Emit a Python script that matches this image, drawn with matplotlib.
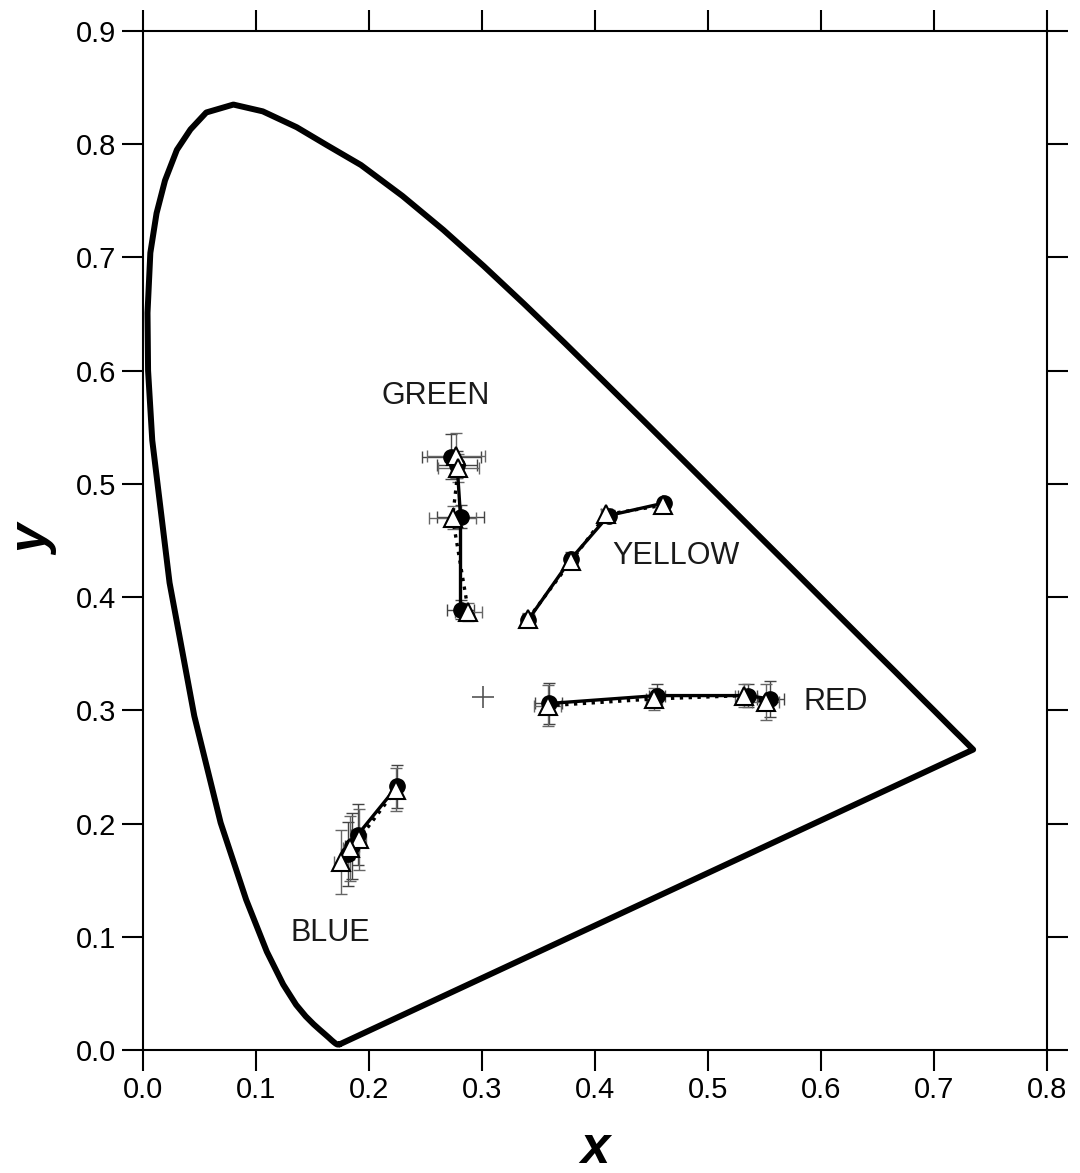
import matplotlib
matplotlib.use("Agg")
import matplotlib.pyplot as plt

plt.rcParams['font.family'] = ['Liberation Sans', 'DejaVu Sans']

# spectral locus (CIE 1931 values, top arc)
locus_x = [0.1741, 0.1740, 0.1738, 0.1736, 0.1733, 0.1730, 0.1726, 0.1721, 0.1714, 0.1703,
           0.1689, 0.1669, 0.1644, 0.1611, 0.1566, 0.1510, 0.1440, 0.1355, 0.1241, 0.1096,
           0.0913, 0.0687, 0.0454, 0.0235, 0.0082, 0.0045, 0.0040, 0.0065, 0.0120, 0.0195,
           0.0300, 0.0420, 0.0560, 0.0800, 0.1060, 0.1360, 0.1630,
           0.1929, 0.2296, 0.2658, 0.3016, 0.3373, 0.3731, 0.4087, 0.4441, 0.4788,
           0.5125, 0.5448, 0.5752, 0.6029, 0.6270, 0.6482, 0.6658, 0.6801, 0.6915, 0.7006,
           0.7079, 0.7140, 0.7190, 0.7230, 0.7260, 0.7283, 0.7300, 0.7311, 0.7320, 0.7327,
           0.7334, 0.7340, 0.7344, 0.7346, 0.7347]
locus_y = [0.0050, 0.0050, 0.0049, 0.0049, 0.0048, 0.0048, 0.0048, 0.0048, 0.0051, 0.0058,
           0.0069, 0.0086, 0.0109, 0.0138, 0.0177, 0.0227, 0.0297, 0.0399, 0.0578, 0.0868,
           0.1327, 0.2007, 0.2950, 0.4127, 0.5384, 0.6000, 0.6510, 0.7040, 0.7390, 0.7680,
           0.7950, 0.8130, 0.8280, 0.8350, 0.8290, 0.8150, 0.7990,
           0.7816, 0.7543, 0.7243, 0.6923, 0.6589, 0.6245, 0.5896, 0.5547, 0.5202,
           0.4866, 0.4544, 0.4242, 0.3965, 0.3725, 0.3514, 0.3340, 0.3197, 0.3083, 0.2993,
           0.2920, 0.2859, 0.2809, 0.2770, 0.2740, 0.2717, 0.2700, 0.2689, 0.2680, 0.2673,
           0.2666, 0.2660, 0.2656, 0.2654, 0.2653]

# measured chromaticities (circles) and model (triangles)
green_cx = [0.273, 0.278, 0.281, 0.281]
green_cy = [0.524, 0.517, 0.471, 0.389]
green_tx = [0.277, 0.279, 0.274, 0.288]
green_ty = [0.525, 0.514, 0.470, 0.387]
green_ex = [0.026, 0.018, 0.021, 0.012]
green_ey = [0.020, 0.012, 0.010, 0.008]

yellow_cx = [0.341, 0.379, 0.412, 0.461]
yellow_cy = [0.380, 0.434, 0.472, 0.483]
yellow_tx = [0.341, 0.379, 0.410, 0.460]
yellow_ty = [0.381, 0.432, 0.473, 0.481]
yellow_ex = [0.005, 0.005, 0.005, 0.004]
yellow_ey = [0.005, 0.006, 0.005, 0.004]

red_cx = [0.359, 0.455, 0.535, 0.555]
red_cy = [0.306, 0.313, 0.313, 0.310]
red_tx = [0.358, 0.452, 0.532, 0.551]
red_ty = [0.304, 0.310, 0.313, 0.307]
red_ex = [0.012, 0.007, 0.008, 0.012]
red_ey = [0.018, 0.010, 0.010, 0.016]

blue_cx = [0.225, 0.190, 0.185, 0.181]
blue_cy = [0.233, 0.190, 0.180, 0.173]
blue_tx = [0.224, 0.191, 0.183, 0.175]
blue_ty = [0.230, 0.186, 0.178, 0.166]
blue_ex = [0.004, 0.006, 0.006, 0.006]
blue_ey = [0.019, 0.027, 0.029, 0.028]

white_x, white_y = 0.301, 0.312

labels = ['GREEN', 'YELLOW', 'RED', 'BLUE']
label_x = [0.259, 0.472, 0.613, 0.166]
label_y = [0.578, 0.436, 0.307, 0.103]

fig = plt.figure(figsize=(10.8, 11.73), dpi=100)
ax = fig.add_axes([0.1324, 0.1049, 0.8370, 0.8687])

ax.plot(locus_x + [locus_x[0]], locus_y + [locus_y[0]], color='black', lw=4.3,
        solid_joinstyle='round', solid_capstyle='round', zorder=2)

groups = [
    (green_cx, green_cy, green_tx, green_ty, green_ex, green_ey),
    (yellow_cx, yellow_cy, yellow_tx, yellow_ty, yellow_ex, yellow_ey),
    (red_cx, red_cy, red_tx, red_ty, red_ex, red_ey),
    (blue_cx, blue_cy, blue_tx, blue_ty, blue_ex, blue_ey),
]
for cx, cy, tx, ty, ex, ey in groups:
    ax.errorbar(cx, cy, xerr=ex, yerr=ey, fmt='none', ecolor='#444444',
                elinewidth=1.0, capsize=4.5, capthick=1.0, zorder=3)
    ax.errorbar(tx, ty, xerr=ex, yerr=ey, fmt='none', ecolor='#666666',
                elinewidth=1.0, capsize=4.5, capthick=1.0, zorder=3)
    ax.plot(cx, cy, '-', color='black', lw=2.4, marker='o', ms=11,
            mfc='black', mec='black', zorder=4)
    ax.plot(tx, ty, ':', color='black', lw=2.4, marker='^', ms=13,
            mfc='white', mec='black', mew=1.5, zorder=5)

ax.plot([white_x], [white_y], marker='+', color='#555555', ms=16, mew=1.2, ls='none')

for t, lx, ly in zip(labels, label_x, label_y):
    ax.text(lx, ly, t, fontsize=22, ha='center', va='center', color='#1a1a1a')

ax.set_xlim(0, 0.8)
ax.set_ylim(0, 0.9)
ax.set_xticks([i / 10 for i in range(9)])
ax.set_yticks([i / 10 for i in range(10)])
ax.set_xticklabels(['%.1f' % (i / 10) for i in range(9)])
ax.set_yticklabels(['%.1f' % (i / 10) for i in range(10)])
ax.tick_params(direction='out', length=15, width=1.5, labelsize=21, pad=4,
               top=True, right=True, labeltop=False, labelright=False)
for s in ax.spines.values():
    s.set_linewidth(1.5)

ax.set_xlabel('x', fontsize=38, fontweight='bold', style='italic', labelpad=14)
ax.set_ylabel('y', fontsize=38, fontweight='bold', style='italic', labelpad=12)

fig.savefig('out.png', dpi=100)
